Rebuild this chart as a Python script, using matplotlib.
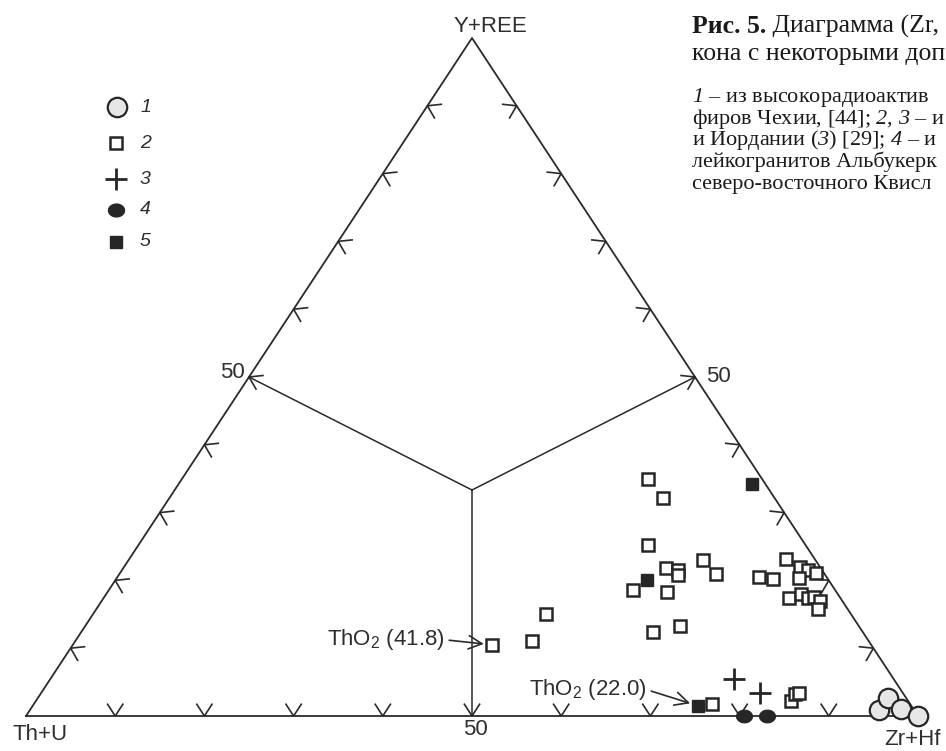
import numpy as np
import matplotlib.pyplot as plt
from matplotlib.path import Path

plt.rcParams['font.family'] = ['Liberation Sans', 'DejaVu Sans']
plt.rcParams['mathtext.fontset'] = 'custom'
plt.rcParams['mathtext.rm'] = 'Liberation Sans'
plt.rcParams['mathtext.sf'] = 'Liberation Serif:italic'

# compositions, %: Th+U, Y+REE, Zr+Hf
s1_th = [3.9, 2.0, 1.4, 0.0]
s1_y = [0.9, 2.7, 1.0, 0.0]
s1_zr = [95.2, 95.3, 97.6, 100.0]

s2_th = [12.8, 12.5, 17.7, 17.4, 16.1, 16.5, 12.6, 12.2, 22.7, 19.0, 7.6, 6.2, 3.2, 2.2, 1.6, 0.9,
         3.1, 5.8, 4.1, 3.6, 2.9, 2.5, 3.3, 34.2, 37.7, 42.5, 23.5, 19.8, 22.2, 13.1, 12.2, 11.7]
s2_y = [35.0, 32.2, 25.2, 21.8, 21.5, 20.8, 23.0, 20.9, 18.6, 18.3, 20.5, 20.2, 23.2, 22.0, 21.5, 21.1,
        20.4, 17.4, 18.0, 17.4, 17.6, 17.0, 15.8, 15.0, 11.1, 10.5, 12.4, 13.0, 1.8, 2.2, 3.2, 3.4]
s2_zr = [52.2, 55.3, 57.1, 60.8, 62.4, 62.7, 64.4, 66.9, 58.8, 62.7, 71.9, 73.6, 73.6, 75.8, 76.9, 78.0,
         76.6, 76.8, 77.9, 79.0, 79.5, 80.5, 80.9, 50.8, 51.2, 47.0, 64.1, 65.6, 76.0, 84.7, 84.6, 85.0]

s3_th = [17.9, 16.0]
s3_y = [5.5, 3.4]
s3_zr = [76.6, 80.6]

s4_th = [19.5, 16.9]
s4_y = [0.0, 0.0]
s4_zr = [80.5, 83.1]

s5_th = [1.5, 20.4, 23.9]
s5_y = [34.2, 20.1, 1.5]
s5_zr = [64.3, 59.6, 74.6]

tick_fracs = [0.1, 0.2, 0.3, 0.4, 0.6, 0.7, 0.8, 0.9]
legend_labels = ['1', '2', '3', '4', '5']

# caption as it shows in the picture (cut at the right edge)
cap_bold = 'Рис. 5.'
cap_line1 = ' Диаграмма (Zr,'
cap_line2 = 'кона с некоторыми доп'
caption_body = [r'$\mathsf{1}$ – из высокорадиоактив',
                r'фиров Чехии, [44]; $\mathsf{2}$, $\mathsf{3}$ – и',
                r'и Иордании ($\mathsf{3}$) [29]; $\mathsf{4}$ – и',
                'лейкогранитов Альбукерк',
                'северо-восточного Квисл']

W, H = 946, 751
LC = '#2a2a2a'
TC = '#2e2e2e'
DC = '#262626'

fig = plt.figure(figsize=(W / 100, H / 100), dpi=100)
# triangle: Th+U at (26,716) px, Zr+Hf at (918,716), Y+REE at (472,38)
PX, PY = 892, 678
ax = fig.add_axes([26 / W, (H - 716) / H, PX / W, PY / H])
ax.set_xlim(0, 1)
ax.set_ylim(0, 1)
ax.axis('off')


def tern(th, y, zr):
    th, y, zr = np.array(th), np.array(y), np.array(zr)
    s = th + y + zr
    return zr / s + 0.5 * y / s, y / s


def head(x, y, dx, dy, size=14, ang=33):
    a = np.arctan2(dy, dx)
    xs, ys = [], []
    for s in (1, -1):
        b = a + np.pi + s * np.radians(ang)
        xs.append(x + size * np.cos(b) / PX)
        ys.append(y + size * np.sin(b) / PY)
    ax.plot([xs[0], x, xs[1]], [ys[0], y, ys[1]], color=LC, lw=1.2, clip_on=False)


# frame
ax.plot([0, 1, 0.5, 0], [0, 0, 1, 0], color=LC, lw=1.3, clip_on=False)
cx, cy = 0.5, 1 / 3
mids = [(0.5, 0.0), (0.25, 0.5), (0.75, 0.5)]
dirs = []
for mx, my in mids:
    ax.plot([cx, mx], [cy, my], color=LC, lw=1.1)
    dirs.append(((mx - cx) * PX, (my - cy) * PY))
    head(mx, my, *dirs[-1])
for f in tick_fracs:
    head(f, 0, *dirs[0])
    head(0.5 * f, f, *dirs[1])
    head(1 - 0.5 * f, f, *dirs[2])

# points
t = np.linspace(0, 2 * np.pi, 60)
ell = Path(np.c_[np.cos(t), 0.8 * np.sin(t)], closed=True)

x, y = tern(s2_th, s2_y, s2_zr)
ax.plot(x, y, 's', ms=8.5, mfc='white', mec=DC, mew=1.8, ls='none', clip_on=False, zorder=3)
x, y = tern(s5_th, s5_y, s5_zr)
ax.plot(x, y, 's', ms=9, mfc=DC, mec=DC, mew=1, ls='none', clip_on=False, zorder=4)
x, y = tern(s3_th, s3_y, s3_zr)
ax.plot(x, y, '+', ms=16, mec=DC, mew=2, ls='none', clip_on=False, zorder=4)
x, y = tern(s4_th, s4_y, s4_zr)
ax.plot(x, y, marker=ell, ms=11.5, mfc=DC, mec=DC, mew=0.8, ls='none', clip_on=False, zorder=4)
x, y = tern(s1_th, s1_y, s1_zr)
ax.plot(x, y, 'o', ms=14, mfc='#e6e6e6', mec=DC, mew=1.6, ls='none', clip_on=False, zorder=5)

# ThO2 notes
aprops = dict(arrowstyle='->,head_length=0.6,head_width=0.3', color=LC, lw=1.2,
              shrinkA=1, shrinkB=6, relpos=(1, 0.5))
x, y = tern([s2_th[25]], [s2_y[25]], [s2_zr[25]])
ax.annotate('ThO$_2$ (41.8)', xy=(x[0], y[0]), xytext=(-47, 5), textcoords='offset pixels',
            ha='right', va='center', fontsize=16, color=TC, arrowprops=aprops)
x, y = tern([s5_th[2]], [s5_y[2]], [s5_zr[2]])
ax.annotate('ThO$_2$ (22.0)', xy=(x[0], y[0]), xytext=(-51, 16), textcoords='offset pixels',
            ha='right', va='center', fontsize=16, color=TC, arrowprops=aprops)

# overlay in pixel coordinates for labels, legend and caption
ov = fig.add_axes([0, 0, 1, 1])
ov.set_xlim(0, W)
ov.set_ylim(H, 0)
ov.axis('off')
ov.patch.set_alpha(0)

ov.text(490, 32, 'Y+REE', ha='center', va='baseline', fontsize=16, color=TC)
ov.text(40, 740, 'Th+U', ha='center', va='baseline', fontsize=16, color=TC)
ov.text(912, 745, 'Zr+Hf', ha='center', va='baseline', fontsize=16, color=TC)
ov.text(475, 735, '50', ha='center', va='baseline', fontsize=16, color=TC)
ov.text(232, 378, '50', ha='center', va='baseline', fontsize=16, color=TC)
ov.text(718, 382, '50', ha='center', va='baseline', fontsize=16, color=TC)

# legend
ly = [107, 143, 179, 210, 242]
ov.plot(117, ly[0], 'o', ms=14, mfc='#e6e6e6', mec=DC, mew=1.6)
ov.plot(116, ly[1], 's', ms=8.5, mfc='white', mec=DC, mew=1.8)
ov.plot(116, ly[2], '+', ms=16, mec=DC, mew=2)
ov.plot(116, ly[3], marker=ell, ms=11.5, mfc=DC, mec=DC)
ov.plot(116, ly[4], 's', ms=9, mfc=DC, mec=DC)
for lab, yy in zip(legend_labels, ly):
    ov.text(140, yy, lab, ha='left', va='center', fontsize=14, style='italic', color=TC)

# caption
cap_kw = dict(ha='left', va='baseline', family='Liberation Serif', color='#1a1a1a')
tb = ov.text(692, 33, cap_bold, fontsize=18.5, weight='bold', **cap_kw)
fig.canvas.draw()
x1 = tb.get_window_extent(fig.canvas.get_renderer()).x1
ov.text(x1, 33, cap_line1, fontsize=18.5, **cap_kw)
ov.text(692, 60, cap_line2, fontsize=18.5, **cap_kw)
for i, s in enumerate(caption_body):
    ov.text(692, 102 + 21.7 * i, s, fontsize=16, **cap_kw)

fig.savefig('out.png', dpi=100)
